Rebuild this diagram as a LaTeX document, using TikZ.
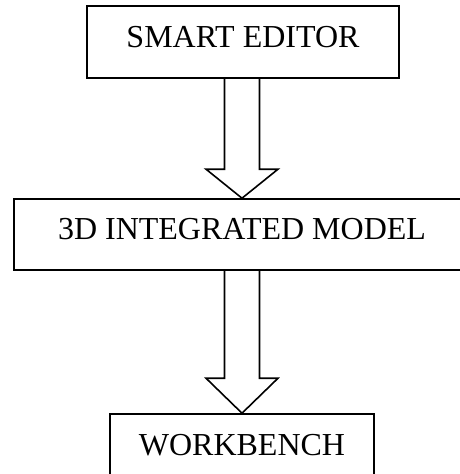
\documentclass[tikz,border=0pt]{standalone}
\usepackage{fontspec}
\setmainfont{Liberation Serif}
\usetikzlibrary{calc}
\tikzset{
  box/.style={draw, line width=1.6pt, inner sep=0pt, text height=21.2pt, text depth=11pt,
    font=\fontsize{32}{38}\selectfont},
  blockarrow/.style={draw, line width=1.6pt, line join=miter}
}
\begin{document}
\begin{tikzpicture}[x=1pt,y=-1pt]
\useasboundingbox (0,0) rectangle (460,474);
\clip (0,0) rectangle (460,474);
\node[box, minimum width=312pt, minimum height=72pt] (b1) at (243,42) {SMART EDITOR};
\node[box, minimum width=456pt, minimum height=71pt] (b2) at (242,234.5) {3D INTEGRATED MODEL};
\node[box, minimum width=264pt, minimum height=72pt] (b3) at (242,450) {WORKBENCH};
\draw[blockarrow] ($(b1.south -| b2.north)+(-17.5,0)$) -- ($(b2.north)+(-17.5,-29)$) -- ($(b2.north)+(-36,-29)$) -- (b2.north) -- ($(b2.north)+(36,-29)$) -- ($(b2.north)+(17.5,-29)$) -- ($(b1.south -| b2.north)+(17.5,0)$);
\draw[blockarrow] ($(b2.south -| b3.north)+(-17.5,0)$) -- ($(b3.north)+(-17.5,-35)$) -- ($(b3.north)+(-36,-35)$) -- (b3.north) -- ($(b3.north)+(36,-35)$) -- ($(b3.north)+(17.5,-35)$) -- ($(b2.south -| b3.north)+(17.5,0)$);
\end{tikzpicture}
\end{document}
